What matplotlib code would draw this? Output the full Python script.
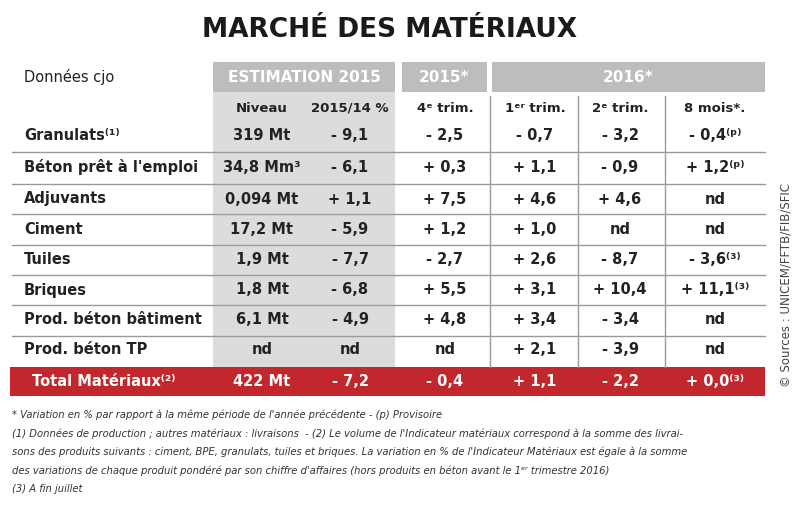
import matplotlib
matplotlib.use("Agg")
import matplotlib.pyplot as plt
from matplotlib.patches import Rectangle

FONT = "DejaVu Sans"

categories = ["Granulats⁽¹⁾", "Béton prêt à l'emploi", "Adjuvants", "Ciment", "Tuiles",
              "Briques", "Prod. béton bâtiment", "Prod. béton TP"]
niveau = ["319 Mt", "34,8 Mm³", "0,094 Mt", "17,2 Mt", "1,9 Mt", "1,8 Mt", "6,1 Mt", "nd"]
var_2015_14 = ["- 9,1", "- 6,1", "+ 1,1", "- 5,9", "- 7,7", "- 6,8", "- 4,9", "nd"]
t4_2015 = ["- 2,5", "+ 0,3", "+ 7,5", "+ 1,2", "- 2,7", "+ 5,5", "+ 4,8", "nd"]
t1_2016 = ["- 0,7", "+ 1,1", "+ 4,6", "+ 1,0", "+ 2,6", "+ 3,1", "+ 3,4", "+ 2,1"]
t2_2016 = ["- 3,2", "- 0,9", "+ 4,6", "nd", "- 8,7", "+ 10,4", "- 3,4", "- 3,9"]
m8_2016 = ["- 0,4⁽ᵖ⁾", "+ 1,2⁽ᵖ⁾", "nd", "nd", "- 3,6⁽³⁾", "+ 11,1⁽³⁾", "nd", "nd"]
total = ["Total Matériaux⁽²⁾", "422 Mt", "- 7,2", "- 0,4", "+ 1,1", "- 2,2", "+ 0,0⁽³⁾"]
sub_headers = ["Niveau", "2015/14 %", "4ᵉ trim.", "1ᵉʳ trim.", "2ᵉ trim.", "8 mois*."]

W, H = 800, 513
fig = plt.figure(figsize=(8, 5.13), dpi=100)
ax = fig.add_axes([0, 0, 1, 1])
ax.set_xlim(0, W); ax.set_ylim(H, 0); ax.axis("off")

def txt(x, y, s, size=10.5, color="#222222", ha="center", weight="bold", **kw):
    ax.text(x, y, s, fontsize=size, color=color, ha=ha, va="center",
            fontweight=weight, family=FONT, **kw)

ax.text(390, 30, "MARCHÉ DES MATÉRIAUX", fontsize=19, fontweight="heavy", ha="center",
        va="center", color="#1a1a1a", family=FONT)

ax.add_patch(Rectangle((213, 62), 182, 305, color="#dcdcdc", lw=0))
ax.add_patch(Rectangle((213, 62), 182, 30, color="#bdbdbd", lw=0))
ax.add_patch(Rectangle((402, 62), 85, 30, color="#bdbdbd", lw=0))
ax.add_patch(Rectangle((492, 62), 273, 30, color="#bdbdbd", lw=0))
txt(304, 77, "ESTIMATION 2015", size=11, color="white")
txt(444, 77, "2015*", size=11, color="white")
txt(628, 77, "2016*", size=11, color="white")
txt(24, 77, "Données cjo", size=10.5, ha="left", weight="normal")

cols = [262, 350, 445, 535, 620, 715]
for x, s in zip(cols, sub_headers):
    txt(x, 108, s, size=9.5)

row_y = [136, 167, 199, 229, 260, 290, 320, 350]
for y in [152, 184, 214, 245, 275, 305, 336]:
    ax.plot([12, 765], [y, y], color="#9a9a9a", lw=1)
for x in [490, 578, 665]:
    ax.plot([x, x], [96, 367], color="#9a9a9a", lw=1)

for i, y in enumerate(row_y):
    txt(24, y, categories[i], ha="left")
    for x, arr in zip(cols, [niveau, var_2015_14, t4_2015, t1_2016, t2_2016, m8_2016]):
        txt(x, y, arr[i])

ax.add_patch(Rectangle((10, 367), 755, 29, color="#c1272d", lw=0))
txt(32, 381, total[0], color="white", ha="left")
for x, s in zip(cols, total[1:]):
    txt(x, 381, s, color="white")

ax.text(786, 285, "© Sources : UNICEM/FFTB/FIB/SFIC", rotation=90, fontsize=8.5,
        ha="center", va="center", color="#444444", family=FONT)

notes = ["* Variation en % par rapport à la même période de l'année précédente - (p) Provisoire",
         "(1) Données de production ; autres matériaux : livraisons  - (2) Le volume de l'Indicateur matériaux correspond à la somme des livrai-",
         "sons des produits suivants : ciment, BPE, granulats, tuiles et briques. La variation en % de l'Indicateur Matériaux est égale à la somme",
         "des variations de chaque produit pondéré par son chiffre d'affaires (hors produits en béton avant le 1ᵉʳ trimestre 2016)",
         "(3) A fin juillet"]
for k, s in enumerate(notes):
    ax.text(12, 415 + k * 18.5, s, fontsize=7.2, style="italic", color="#333333",
            ha="left", va="center", family=FONT)

fig.savefig("out.png", dpi=100, facecolor="white")
